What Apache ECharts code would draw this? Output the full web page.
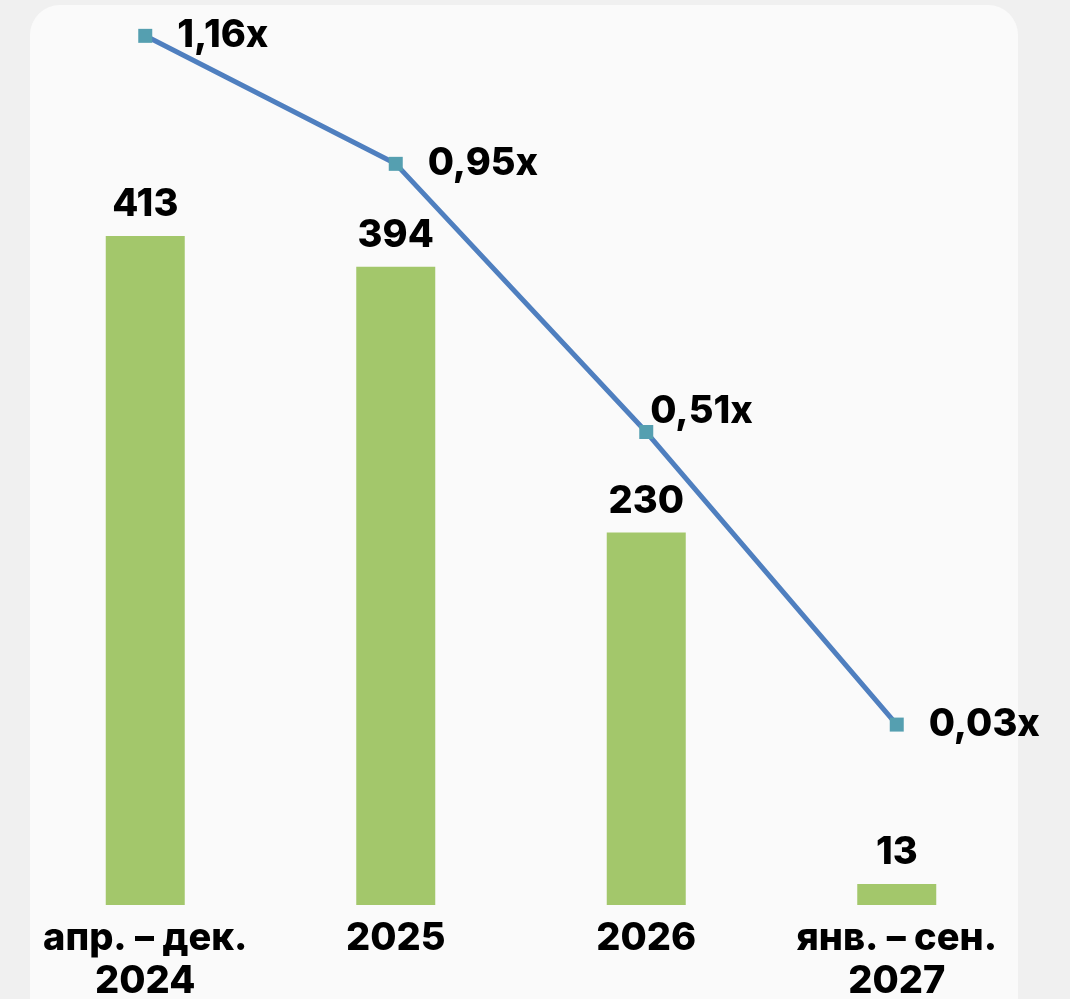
<!DOCTYPE html>
<html>
<head>
<meta charset="utf-8">
<style>
  html, body { margin: 0; padding: 0; background: #f0f0f0; }
  #chart { width: 1070px; height: 999px; }
</style>
<script src="https://cdn.jsdelivr.net/npm/echarts@6/dist/echarts.min.js"></script>
</head>
<body>
<div id="chart"></div>
<script>
// Periods and values
const categories = ['апр. – дек.\n2024', '2025', '2026', 'янв. – сен.\n2027'];
const barValues = [413, 394, 230, 13];
const ratioValues = [1.16, 0.95, 0.51, 0.03];

const FONT = 'Inter, "Open Sans", sans-serif';
const chart = echarts.init(document.getElementById('chart'), null, { renderer: 'canvas' });

chart.setOption({
  backgroundColor: '#f0f0f0',
  animation: false,
  graphic: [{
    type: 'rect',
    z: -10,
    shape: { x: 30, y: 5, width: 988, height: 1100, r: 30 },
    style: { fill: '#fafafa' }
  }],
  grid: { left: 20, right: 48, top: 20, bottom: 94, outerBoundsMode: 'none', containLabel: false },
  xAxis: {
    type: 'category',
    data: categories,
    axisLine: { show: false },
    axisTick: { show: false },
    axisLabel: {
      interval: 0,
      hideOverlap: false,
      color: '#000',
      fontFamily: FONT,
      fontWeight: 800,
      fontSize: 38,
      lineHeight: 43,
      margin: 12
    }
  },
  yAxis: [
    { type: 'value', min: 0, max: 546.3, show: false, splitLine: { show: false } },
    { type: 'value', min: -0.266, max: 1.186, show: false, splitLine: { show: false } }
  ],
  series: [
    {
      type: 'bar',
      data: barValues,
      barWidth: 79,
      itemStyle: { color: '#a3c76b' },
      label: {
        show: true,
        position: 'top',
        distance: 12,
        color: '#000',
        fontFamily: FONT,
        fontWeight: 800,
        fontSize: 38
      }
    },
    {
      type: 'line',
      yAxisIndex: 1,
      data: ratioValues.map((v, i) => i === 2
        ? { value: v, label: { position: 'right', offset: [-28, -20] } }
        : v),
      symbol: 'rect',
      symbolSize: 14,
      lineStyle: { color: '#4f7fbf', width: 5 },
      itemStyle: { color: '#559fb0' },
      z: 5,
      label: {
        show: true,
        position: 'right',
        distance: 25,
        color: '#000',
        fontFamily: FONT,
        fontWeight: 800,
        fontSize: 38,
        formatter: p => p.value.toFixed(2).replace('.', ',') + 'x'
      }
    }
  ]
});
</script>
</body>
</html>
